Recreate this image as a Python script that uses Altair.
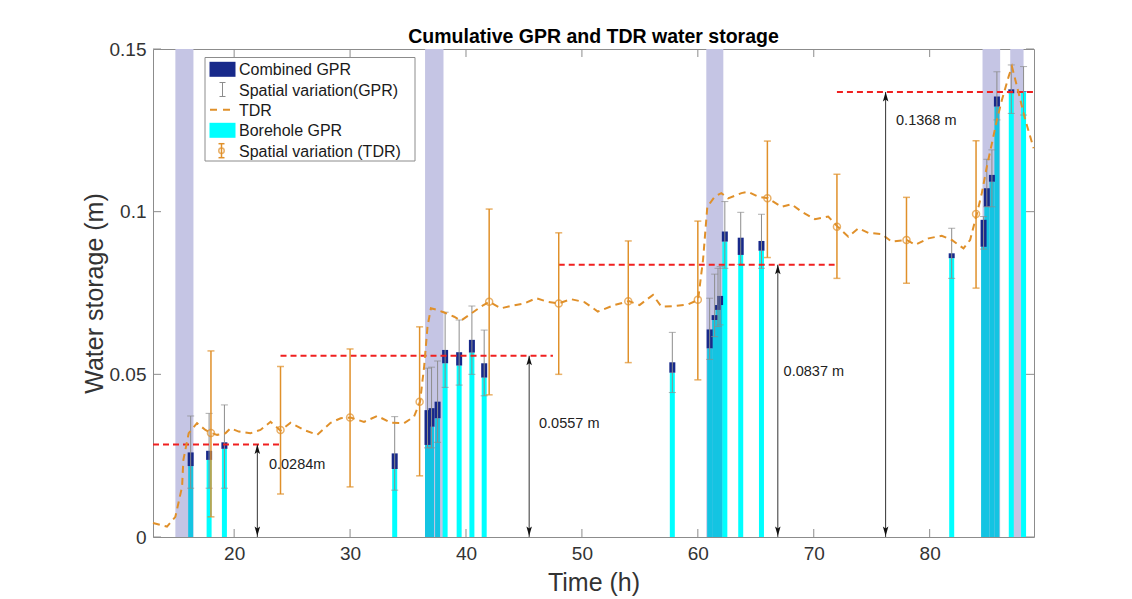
import altair as alt
import pandas as pd

# ---------------- data ----------------
gpr_time = [16.25, 17.84, 19.16, 33.85, 36.68, 37.03, 37.55, 38.2, 39.41, 40.51, 41.57,
            57.8, 61.02, 61.45, 61.74, 61.92, 62.33, 63.7, 65.49,
            81.9, 84.65, 84.93, 85.37, 85.8, 87.04, 88.1]
borehole_gpr = [0.0218, 0.0237, 0.0271, 0.0209, 0.0283, 0.0339, 0.0365, 0.0534, 0.0527, 0.0567, 0.049,
                0.0505, 0.058, 0.0667, 0.0698, 0.0713, 0.0908, 0.0867, 0.088,
                0.0857, 0.0892, 0.1015, 0.1092, 0.1323, 0.1364, 0.1368]
combined_gpr = [0.026, 0.0265, 0.0291, 0.0257, 0.039, 0.0396, 0.0416, 0.0575, 0.0568, 0.0606, 0.0534,
                0.0537, 0.0638, 0.0682, 0.0713, 0.0741, 0.0939, 0.092, 0.091,
                0.0872, 0.0975, 0.1072, 0.1113, 0.1354, 0.1376, 0.1370]
gpr_err_high = [0.0372, 0.038, 0.0406, 0.037, 0.0519, 0.0522, 0.0541, 0.0691, 0.0667, 0.071, 0.0636,
                0.0629, 0.0734, 0.0808, 0.0826, 0.0831, 0.1031, 0.0998, 0.0992,
                0.0949, 0.0985, 0.1161, 0.119, 0.143, 0.1451, 0.1446]
gpr_err_low = [0.015, 0.015, 0.015, 0.0144, 0.0274, 0.0274, 0.0291, 0.046, 0.0467, 0.05, 0.0434,
               0.0444, 0.0546, 0.0616, 0.0647, 0.0652, 0.0826, 0.0838, 0.0826,
               0.0795, 0.0885, 0.1015, 0.1015, 0.1282, 0.1302, 0.1297]
gpr_dense = [1, 0, 0, 0, 1, 1, 1, 0, 0, 0, 0,
             0, 1, 1, 1, 1, 0, 0, 0,
             0, 1, 1, 1, 1, 0, 0]

tdr_line_time = [13.0, 14.21, 14.93, 15.51, 15.62, 16.08, 16.8, 17.52, 18.01, 18.53, 19.25, 19.68,
                 20.4, 21.41, 22.27, 23.14, 24.0, 24.87, 26.02, 27.17, 28.32, 29.19, 30.05, 31.2,
                 32.36, 33.51, 34.66, 35.52, 36.04, 36.39, 36.68, 36.97, 37.55, 38.12, 38.98, 39.56,
                 40.42, 41.29, 42.0, 43.02, 43.88, 45.03, 46.04, 47.05, 47.97, 49.07, 50.22, 51.37,
                 52.81, 54.05, 54.97, 56.13, 56.85, 57.99, 59.15, 60.02, 60.45, 60.82, 61.45, 62.03,
                 62.61, 63.76, 64.34, 65.2, 66.07, 67.22, 68.08, 68.95, 70.1, 71.25, 72.06, 72.98,
                 73.85, 74.71, 75.86, 76.72, 78.02, 78.74, 79.9, 81.04, 81.91, 82.92, 83.49, 84.07,
                 84.5, 84.93, 85.37, 85.8, 86.23, 86.81, 87.1, 87.68, 88.25, 88.97]
tdr_line_value = [0.0043, 0.0032, 0.0062, 0.0155, 0.0237, 0.0319, 0.035, 0.0329, 0.032, 0.0314, 0.0319, 0.0334,
                  0.0324, 0.0319, 0.0329, 0.0354, 0.0327, 0.0351, 0.0329, 0.0314, 0.0351, 0.0365, 0.0367, 0.0354,
                  0.0372, 0.0351, 0.035, 0.037, 0.0416, 0.0524, 0.0646, 0.0703, 0.0698, 0.069, 0.0677, 0.0665,
                  0.0686, 0.0708, 0.0723, 0.0703, 0.071, 0.0718, 0.0734, 0.0723, 0.0718, 0.0731, 0.0722, 0.0693,
                  0.0713, 0.0725, 0.0713, 0.0744, 0.0708, 0.071, 0.0715, 0.0729, 0.0852, 0.1015, 0.1046, 0.1057,
                  0.1041, 0.1057, 0.1061, 0.1046, 0.1041, 0.1015, 0.1023, 0.1, 0.0977, 0.0985, 0.0954, 0.0923,
                  0.0949, 0.0935, 0.0931, 0.0908, 0.0913, 0.0898, 0.0918, 0.0926, 0.0913, 0.0887, 0.0913, 0.0993,
                  0.1057, 0.1138, 0.121, 0.1282, 0.1343, 0.1415, 0.1446, 0.1364, 0.1282, 0.1195]

tdr_time = [18, 24, 30, 36, 42, 48, 54, 60, 66, 72, 78, 84]
tdr_mean = [0.032, 0.0329, 0.0367, 0.0416, 0.0723, 0.0718, 0.0725, 0.0729, 0.1041, 0.0954, 0.0913, 0.0993]
tdr_high = [0.0572, 0.0524, 0.0578, 0.0646, 0.1008, 0.0935, 0.091, 0.0971, 0.1217, 0.1115, 0.1044, 0.1218]
tdr_low = [0.0062, 0.0132, 0.0154, 0.0188, 0.0437, 0.05, 0.0536, 0.0483, 0.0859, 0.0795, 0.078, 0.0765]

irrigation_start = [14.93, 36.47, 60.73, 84.56, 86.95]
irrigation_end = [16.49, 38.06, 62.2, 86.08, 88.1]

level_start = [13, 24, 48, 72]
level_end = [24, 47.5, 71.8, 89]
level_value = [0.0284, 0.0557, 0.0837, 0.1368]
arrow_time = [22.0, 45.45, 66.9, 76.2]
level_label = ["0.0284m", "0.0557 m", "0.0837 m", "0.1368 m"]
label_time = [23.0, 46.3, 67.4, 77.1]
label_value = [0.0221, 0.0347, 0.0507, 0.1279]

x_ticks = [20, 30, 40, 50, 60, 70, 80]
y_ticks = [0, 0.05, 0.1, 0.15]

legend_labels = ["Combined GPR", "Spatial variation(GPR)", "TDR", "Borehole GPR", "Spatial variation (TDR)"]

title_text = "Cumulative GPR and TDR water storage"
x_title = "Time (h)"
y_title = "Water storage (m)"

# ---------------- styling ----------------
W, H = 881, 488
FONT = "Liberation Sans"
CYAN = "#00ffff"
CYAN_DENSE = "#14c4e2"
NAVY = "#17298a"
ORANGE = "#e0902a"
RED = "#f02020"
GREY = "#8c8c8c"
SHADE = "#c5c5e4"

gpr = pd.DataFrame({"t": gpr_time, "b": borehole_gpr, "c": combined_gpr,
                    "lo": gpr_err_low, "hi": gpr_err_high, "dense": gpr_dense})
tdr_l = pd.DataFrame({"t": tdr_line_time, "v": tdr_line_value})
tdr = pd.DataFrame({"t": tdr_time, "m": tdr_mean, "lo": tdr_low, "hi": tdr_high})
shade = pd.DataFrame({"s": irrigation_start, "e": irrigation_end})
lev = pd.DataFrame({"s": level_start, "e": level_end, "v": level_value, "a": arrow_time,
                    "lab": level_label, "lt": label_time, "lv": label_value})
xt = pd.DataFrame({"t": x_ticks})
yt = pd.DataFrame({"v": y_ticks})

xs = alt.Scale(domain=[13, 89], nice=False, zero=False, padding=0)
ys = alt.Scale(domain=[0, 0.15], nice=False, zero=False, padding=0)

x_axis = alt.Axis(values=x_ticks, format="d", title=x_title, ticks=False, domain=False, grid=False,
                  labelPadding=7, titlePadding=7)
y_axis = alt.Axis(values=y_ticks, format=".2~f", title=y_title, ticks=False, domain=False, grid=False,
                  labelPadding=7, titlePadding=2)


def X(f):
    return alt.X(f, type="quantitative", scale=xs, axis=x_axis)


def Y(f):
    return alt.Y(f, type="quantitative", scale=ys, axis=y_axis)


# shading
shade_layer = alt.Chart(shade).mark_rect(color=SHADE).encode(
    x=X("s"), x2="e:Q", y=Y("y0"), y2=alt.datum(0.15),
).transform_calculate(y0="0")

bars = alt.Chart(gpr).mark_bar(size=5).encode(
    x=X("t"), y=Y("b"), y2=alt.datum(0),
    color=alt.condition("datum.dense == 1", alt.value(CYAN_DENSE), alt.value(CYAN)),
)
navy = alt.Chart(gpr).mark_bar(size=6, color=NAVY).encode(x=X("t"), y=Y("b"), y2="c:Q")
gerr = alt.Chart(gpr).mark_rule(color=GREY, strokeWidth=1).encode(x=X("t"), y=Y("lo"), y2="hi:Q")
gcap = alt.Chart(gpr).transform_fold(["lo", "hi"], as_=["k", "v"]).mark_tick(
    orient="horizontal", size=7, thickness=1, color=GREY).encode(x=X("t"), y=Y("v"))

red = alt.Chart(lev).mark_rule(color=RED, strokeWidth=2, strokeDash=[6, 4]).encode(
    x=X("s"), x2="e:Q", y=Y("v"))

tdr_line = alt.Chart(tdr_l).mark_line(color=ORANGE, strokeWidth=2, strokeDash=[7, 5]).encode(
    x=X("t"), y=Y("v"))
terr = alt.Chart(tdr).mark_rule(color=ORANGE, strokeWidth=1.5).encode(x=X("t"), y=Y("lo"), y2="hi:Q")
tcap = alt.Chart(tdr).transform_fold(["lo", "hi"], as_=["k", "v"]).mark_tick(
    orient="horizontal", size=7, thickness=1.5, color=ORANGE).encode(x=X("t"), y=Y("v"))
tpt = alt.Chart(tdr).mark_point(shape="circle", size=49, filled=False, color=ORANGE,
                                strokeWidth=1.5).encode(x=X("t"), y=Y("m"))

arrow = alt.Chart(lev).mark_rule(color="#333333", strokeWidth=1).encode(
    x=X("a"), y=Y("v"), y2=alt.datum(0))
head_up = alt.Chart(lev).mark_point(shape="M0,-1L0.55,0.9L0,0.5L-0.55,0.9Z", filled=True, size=100,
                                    color="#111111", opacity=1, yOffset=5).encode(x=X("a"), y=Y("v"))
head_dn = alt.Chart(lev).mark_point(shape="M0,1L0.55,-0.9L0,-0.5L-0.55,-0.9Z", filled=True, size=100,
                                    color="#111111", opacity=1, yOffset=-6).encode(
    x=X("a"), y=Y("zero")).transform_calculate(zero="0")
labels = alt.Chart(lev).mark_text(align="left", baseline="middle", fontSize=14.5, font=FONT,
                                  color="#222222").encode(x=X("lt"), y=Y("lv"), text="lab:N")

# inner ticks (box style)
TL = 8
tick_b = alt.Chart(xt).mark_rule(color=GREY).encode(x=X("t"), y=alt.value(H), y2=alt.value(H - TL))
tick_t = alt.Chart(xt).mark_rule(color=GREY).encode(x=X("t"), y=alt.value(0), y2=alt.value(TL))
tick_l = alt.Chart(yt).mark_rule(color=GREY).encode(y=Y("v"), x=alt.value(0), x2=alt.value(TL))
tick_r = alt.Chart(yt).mark_rule(color=GREY).encode(y=Y("v"), x=alt.value(W), x2=alt.value(W - TL))

# manual legend
one = alt.Data(values=[{"a": 1}])
LX0, LX1, LY0, LY1 = 52, 262, 8.5, 112
rows = [20.3, 40.5, 60.7, 81.3, 101.7]
SW0, SW1 = 56.5, 82.5
SWC = 69.5
TX = 86

leg = [
    alt.Chart(one).mark_rect(fill="white", stroke="#8c8c8c", strokeWidth=1).encode(
        x=alt.value(LX0), x2=alt.value(LX1), y=alt.value(LY0), y2=alt.value(LY1)),
    alt.Chart(one).mark_rect(color=NAVY).encode(
        x=alt.value(SW0), x2=alt.value(SW1), y=alt.value(rows[0] - 7.5), y2=alt.value(rows[0] + 7.5)),
    alt.Chart(one).mark_rule(color=GREY).encode(
        x=alt.value(SWC), y=alt.value(rows[1] - 7), y2=alt.value(rows[1] + 7)),
    alt.Chart(one).mark_rule(color=GREY).encode(
        x=alt.value(SWC - 3), x2=alt.value(SWC + 3), y=alt.value(rows[1] - 7)),
    alt.Chart(one).mark_rule(color=GREY).encode(
        x=alt.value(SWC - 3), x2=alt.value(SWC + 3), y=alt.value(rows[1] + 7)),
    alt.Chart(one).mark_rule(color=ORANGE, strokeWidth=2, strokeDash=[7, 6]).encode(
        x=alt.value(57), x2=alt.value(77), y=alt.value(rows[2])),
    alt.Chart(one).mark_rect(color=CYAN).encode(
        x=alt.value(SW0), x2=alt.value(SW1), y=alt.value(rows[3] - 7.5), y2=alt.value(rows[3] + 7.5)),
    alt.Chart(one).mark_rule(color=ORANGE, strokeWidth=1.5).encode(
        x=alt.value(SWC - 1), y=alt.value(rows[4] - 7), y2=alt.value(rows[4] + 7)),
    alt.Chart(one).mark_rule(color=ORANGE, strokeWidth=1.5).encode(
        x=alt.value(SWC - 4), x2=alt.value(SWC + 2), y=alt.value(rows[4] - 7)),
    alt.Chart(one).mark_rule(color=ORANGE, strokeWidth=1.5).encode(
        x=alt.value(SWC - 4), x2=alt.value(SWC + 2), y=alt.value(rows[4] + 7)),
    alt.Chart(one).mark_point(shape="circle", size=30, filled=False, color=ORANGE, strokeWidth=1.5).encode(
        x=alt.value(SWC - 1), y=alt.value(rows[4])),
]
for i, lab in enumerate(legend_labels):
    leg.append(alt.Chart(one).mark_text(align="left", baseline="middle", fontSize=16, font=FONT,
                                        color="#1a1a1a").encode(
        x=alt.value(TX), y=alt.value(rows[i] + 1), text=alt.value(lab)))

chart = alt.layer(
    shade_layer, bars, navy, gerr, gcap, red, tdr_line, terr, tcap, tpt,
    arrow, head_up, head_dn, labels, tick_b, tick_t, tick_l, tick_r, *leg
).properties(
    width=W, height=H,
    title=alt.TitleParams(title_text, font=FONT, fontSize=19.5, fontWeight="bold", color="#000000",
                          anchor="middle", offset=0, dy=7),
    autosize=alt.AutoSizeParams(type="none"),
    padding={"left": 153, "top": 49, "right": 98, "bottom": 62},
).configure_view(
    stroke=GREY, strokeWidth=1
).configure_axis(
    labelFont=FONT, labelFontSize=19, labelColor="#333333",
    titleFont=FONT, titleFontSize=25, titleFontWeight="normal", titleColor="#333333",
)

chart.save("out.html", embed_options={"renderer": "svg", "actions": False})
